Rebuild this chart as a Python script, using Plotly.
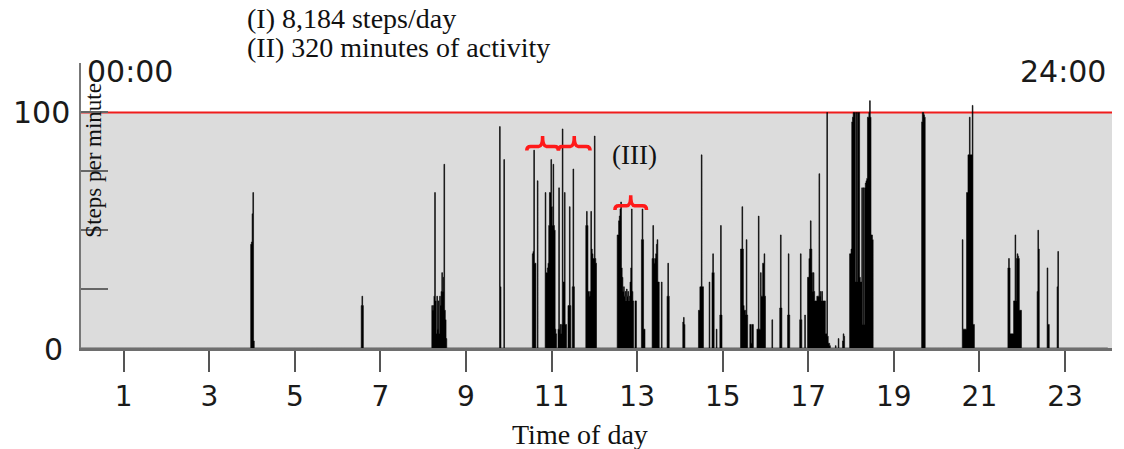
import numpy as np
import plotly.graph_objects as go

# ---------------- data ----------------
# Each bout: first minute of the day (0..1439) and the steps counted in each consecutive minute
bout_start_min = [
    238, 393, 492, 587, 593, 633, 640, 651, 669, 683, 689, 708,
    752, 777, 786, 801, 814, 822, 844, 866, 881, 885, 891, 896,
    925, 938, 948, 969, 980, 991, 1008, 1015, 1019, 1058, 1062, 1068,
    1078, 1179, 1236, 1300, 1341, 1355, 1369,
]
bout_steps = [
    [44, 45, 57, 66, 3],
    [18, 22, 18],
    [18, 16, 18, 22, 66, 20, 6, 22, 8, 20, 6, 22, 18, 24, 32, 24, 30, 78, 16, 12, 4],
    [94, 26],
    [80],
    [40, 41, 84, 36, 36],
    [71],
    [66, 32, 32, 34, 36, 52, 66, 66, 80, 60, 52, 78, 52, 50, 8, 6],
    [8, 68, 8, 10, 6, 10, 93, 28, 28, 66, 10, 10],
    [18, 18, 60, 18],
    [26, 76, 26],
    [52, 58, 52, 24, 24, 22, 24, 58, 42, 40, 38, 38, 90, 38, 36],
    [48, 48, 54, 56, 59, 62, 34, 30, 24, 26, 22, 24, 20, 25, 22, 24, 20, 22, 28, 34, 59, 24, 20],
    [20, 20],
    [46, 59, 46, 8, 8],
    [38, 52, 38, 36, 38, 40, 44, 46, 28, 28],
    [28],
    [22, 36, 22],
    [11, 13, 10],
    [16, 16, 26, 26, 82, 26, 26],
    [28],
    [32, 40, 32],
    [8],
    [14, 52, 14],
    [42, 42, 60, 42, 18, 16, 16, 14, 46, 14],
    [10, 10, 2, 10, 10],
    [8, 8, 56, 8, 8, 32, 22, 22, 36, 36, 40, 22],
    [12],
    [17, 48, 17],
    [14, 40, 14],
    [12, 40, 12],
    [14],
    [30, 30, 38, 42, 54, 42, 32, 24, 32, 24, 20, 20, 20, 22, 22, 22, 74, 22, 24, 20,
     24, 20, 20, 20, 20, 6, 6, 100, 5, 2, 2, 1],
    [1],
    [4],
    [3, 6, 5],
    [40, 40, 42, 96, 98, 100, 100, 100, 28, 100, 28, 100, 100, 100, 30, 28, 28, 68, 10,
     68, 10, 68, 70, 71, 72, 98, 98, 100, 105, 98, 48, 48, 46],
    [96, 100, 100, 99, 98],
    [46, 8, 8, 8, 8, 8, 66, 66, 82, 82, 98, 82, 82, 82, 103, 10, 10],
    [34, 38, 34, 6, 6, 6, 6, 6, 20, 20, 48, 20, 38, 40, 39, 38, 16, 16, 16],
    [24, 50, 42],
    [34, 10, 10],
    [26, 41],
]
hour_ticks = [1, 3, 5, 7, 9, 11, 13, 15, 17, 19, 21, 23]
threshold = 100
summary_lines = ["(I) 8,184 steps/day", "(II) 320 minutes of activity"]

# ---------------- build per-minute series ----------------
minutes = np.arange(0, 1441)
steps = np.zeros(1441)
for start, vals in zip(bout_start_min, bout_steps):
    steps[start:start + len(vals)] = vals
hours = minutes / 60.0

fig = go.Figure()
fig.add_trace(go.Scatter(
    x=hours, y=steps, mode="lines",
    line=dict(width=0.6, shape="hv", simplify=False, color="black"),
    fill="tozeroy", fillcolor="black", hoverinfo="skip", showlegend=False,
))

XMAX = 24.1
YMAX = 121

shapes = [
    dict(type="rect", xref="x", yref="y", x0=0, x1=XMAX, y0=0, y1=threshold,
         fillcolor="#dcdcdc", line=dict(width=0), layer="below"),
    dict(type="line", xref="x", yref="y", x0=0, x1=XMAX, y0=threshold, y1=threshold,
         line=dict(color="#f01c1c", width=2), layer="below"),
]


def brace(x0, x1, y, up=4.4, down=1.8, e=0.09):
    xc = (x0 + x1) / 2
    return (f"M {x0},{y - down} Q {x0},{y} {x0 + e},{y} L {xc - e},{y} "
            f"Q {xc},{y} {xc},{y + up} Q {xc},{y} {xc + e},{y} L {x1 - e},{y} "
            f"Q {x1},{y} {x1},{y - down}")


for (bx0, bx1, by) in [(10.42, 11.16, 85.6), (11.16, 11.90, 85.6), (12.48, 13.22, 60.4)]:
    shapes.append(dict(type="path", xref="x", yref="y", path=brace(bx0, bx1, by),
                       line=dict(color="#ff1a1a", width=3.5), layer="above"))

sans = "DejaVu Sans"
serif = "Liberation Serif"
ann = []
# labels inside the axis ranges: data coordinates
for t, x, y, xa, fam, sz, ang in [
    ("00:00", 0.094, 117.3, "left", sans, 30, 0),
    ("24:00", 24.0, 117.3, "right", sans, 30, 0),
    ("(III)", 12.37, 82, "left", serif, 27, 0),
    ("Steps per minute", 0.30, 79.9, "center", serif, 23, -90),
]:
    ann.append(dict(xref="x", yref="y", x=x, y=y, text=t, xanchor=xa, yanchor="middle",
                    textangle=ang, showarrow=False,
                    font=dict(family=fam, size=sz, color="#1a1a1a" if fam == sans else "#111")))
# labels outside the plot area: paper coordinates
for t, x, y, xa, fam, sz in [
    ("100", -0.0087, 0.825, "right", sans, 30),
    ("0", -0.0155, -0.006, "right", sans, 30),
    (summary_lines[0], 0.159, 1.156, "left", serif, 28),
    (summary_lines[1], 0.159, 1.056, "left", serif, 28),
    ("Time of day", 0.484, -0.304, "center", serif, 28),
]:
    ann.append(dict(xref="paper", yref="paper", x=x, y=y, text=t, xanchor=xa,
                    yanchor="middle", showarrow=False,
                    font=dict(family=fam, size=sz, color="#1a1a1a" if fam == sans else "#111")))

fig.update_layout(
    width=1124, height=449,
    margin=dict(l=81, r=12, t=63, b=101),
    paper_bgcolor="white", plot_bgcolor="white",
    shapes=shapes, annotations=ann,
    xaxis=dict(range=[0, XMAX], tickvals=hour_ticks, ticktext=[str(h) for h in hour_ticks],
               ticks="outside", ticklen=21, tickwidth=1.5, tickcolor="#555",
               showline=True, linecolor="#6e6e6e", linewidth=3,
               showgrid=False, zeroline=False, ticklabelstandoff=0,
               tickfont=dict(family=sans, size=28, color="#1a1a1a")),
    yaxis=dict(range=[0, YMAX], tickvals=[25, 50, 75, 100, YMAX],
               ticks="inside", ticklen=27, tickwidth=1.5, tickcolor="#666",
               showticklabels=False, showline=True, linecolor="#777", linewidth=2,
               showgrid=False, zeroline=False),
)

# remove the default 8px page margin so the figure fills the window exactly
fig.write_html("out.html",
               config={"displayModeBar": False},
               post_script="document.body.style.margin='0';document.body.style.overflow='hidden';")
